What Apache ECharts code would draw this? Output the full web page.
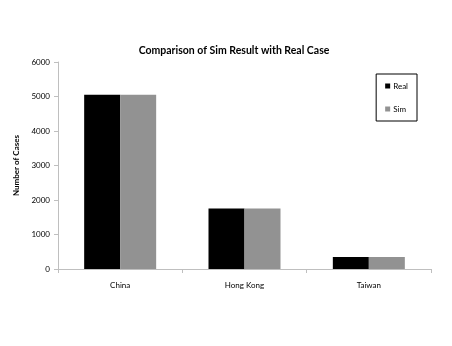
<!DOCTYPE html>
<html><head><meta charset="utf-8">
<script src="https://cdn.jsdelivr.net/npm/echarts@6/dist/echarts.min.js"></script>
<style>html,body{margin:0;padding:0;background:#fff}#c{width:452px;height:346px}</style>
</head><body><div id="c"></div>
<script>
const categories = ["China", "Hong Kong", "Taiwan"];
const realValues = [5050, 1755, 346];
const simValues = [5050, 1755, 350];
const yTicks = [0, 1000, 2000, 3000, 4000, 5000, 6000];

const chart = echarts.init(document.getElementById('c'), null, {renderer: 'canvas'});
const font = 'Lato, "Open Sans", sans-serif';
chart.setOption({
  animation: false,
  backgroundColor: '#fff',
  title: {
    text: 'Comparison of Sim Result with Real Case',
    left: 229, top: 40, textAlign: 'center',
    textStyle: {fontSize: 10.5, fontWeight: 'bold', color: '#000', fontFamily: font}
  },
  legend: {
    right: 35, top: 74, orient: 'vertical',
    itemWidth: 5, itemHeight: 5, itemGap: 15,
    padding: [8, 9, 8, 9],
    borderColor: '#000', borderWidth: 1,
    icon: 'rect',
    textStyle: {fontSize: 8, color: '#000', fontFamily: font, padding: [0, 0, 0, -2]},
    data: ['Real', 'Sim']
  },
  grid: {left: 58, right: 21, top: 62, bottom: 77},
  xAxis: {
    type: 'category', data: categories,
    axisLine: {lineStyle: {color: '#bfbfbf'}},
    axisTick: {show: true, alignWithLabel: false, length: 4, lineStyle: {color: '#bfbfbf'}},
    axisLabel: {fontSize: 8, color: '#000', fontFamily: font, margin: 12}
  },
  yAxis: {
    type: 'value', min: yTicks[0], max: yTicks[yTicks.length - 1], interval: 1000,
    name: 'Number of Cases', nameLocation: 'middle', nameGap: 38, nameRotate: 90,
    nameTextStyle: {fontSize: 8, fontWeight: 'bold', color: '#000', fontFamily: font},
    axisLine: {show: true, lineStyle: {color: '#bfbfbf'}},
    axisTick: {show: true, length: 4, lineStyle: {color: '#bfbfbf'}},
    splitLine: {show: false},
    axisLabel: {fontSize: 8, color: '#000', fontFamily: font, margin: 8, formatter: v => String(v)}
  },
  series: [
    {name: 'Real', type: 'bar', data: realValues, barWidth: 36, barGap: '0%', itemStyle: {color: '#000'}},
    {name: 'Sim', type: 'bar', data: simValues, barWidth: 36, itemStyle: {color: '#929292'}}
  ]
});
</script></body></html>
